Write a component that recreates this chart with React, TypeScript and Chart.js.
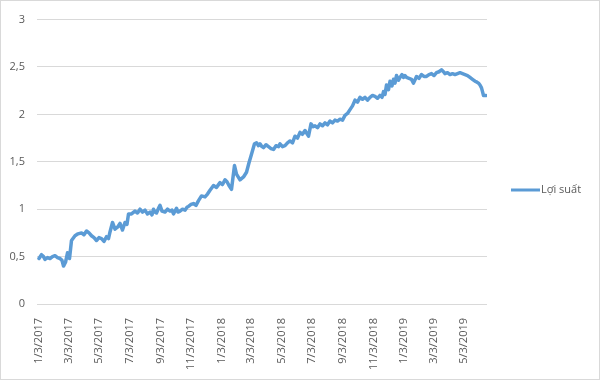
import React, { useEffect, useRef } from "react";
import { Chart, registerables } from "chart.js";

Chart.register(...registerables);

const seriesLabel = "Lợi suất";
const startDate = [2017, 1, 3];

// Days since 3 Jan 2017 for each sampled point (rows align with the yields rows below)
const dayOffsets = [
  0, 5, 9, 12, 17, 22, 27, 32, 37, 42, 46, 49, 53, 57, 61, 65, 72, 78, 85, 90,
  95, 100, 105, 110, 115, 120, 125, 130, 135, 139, 142, 147, 152, 157, 162, 167, 172, 176, 179, 185,
  192, 197, 202, 207, 212, 217, 222, 226, 229, 232, 235, 240, 242, 246, 252, 257, 262, 266, 269, 275,
  278, 282, 287, 292, 296, 299, 304, 309, 314, 319, 325, 332, 337, 342, 349, 355, 362, 367, 372, 376,
  380, 385, 391, 395, 402, 409, 415, 420, 425, 431, 435, 439, 442, 446, 449, 454, 459, 464, 469, 474,
  479, 482, 487, 492, 497, 502, 507, 512, 517, 522, 527, 532, 539, 544, 548, 552, 557, 562, 567, 572,
  577, 582, 587, 592, 597, 602, 607, 612, 617, 622, 627, 632, 637, 642, 647, 652, 657, 662, 667, 672,
  677, 682, 686, 689, 692, 695, 699, 702, 706, 709, 712, 715, 719, 722, 726, 729, 732, 735, 740, 745,
  749, 755, 760, 765, 770, 775, 780, 785, 790, 795, 800, 805, 809, 812, 817, 822, 827, 832, 837, 842,
  847, 852, 857, 862, 867, 872, 876, 879, 882, 885, 887, 889, 894,
];

const yields = [
  0.48, 0.52, 0.50, 0.47, 0.49, 0.48, 0.50, 0.51, 0.49, 0.48, 0.46, 0.40, 0.44, 0.54, 0.48, 0.67, 0.72, 0.74, 0.75, 0.73,
  0.77, 0.75, 0.72, 0.70, 0.67, 0.70, 0.69, 0.66, 0.71, 0.69, 0.76, 0.86, 0.79, 0.81, 0.85, 0.78, 0.86, 0.84, 0.95, 0.95,
  0.98, 0.96, 1.00, 0.97, 0.99, 0.95, 0.97, 0.94, 1.00, 0.97, 0.96, 1.02, 1.04, 0.98, 0.97, 1.00, 0.98, 0.99, 0.95, 1.01,
  0.97, 0.98, 1.00, 0.99, 1.02, 1.03, 1.05, 1.06, 1.04, 1.09, 1.14, 1.13, 1.16, 1.20, 1.25, 1.23, 1.28, 1.26, 1.31, 1.29,
  1.25, 1.21, 1.46, 1.37, 1.31, 1.34, 1.39, 1.49, 1.58, 1.69, 1.70, 1.67, 1.69, 1.66, 1.65, 1.68, 1.66, 1.64, 1.63, 1.67,
  1.66, 1.69, 1.66, 1.67, 1.70, 1.72, 1.70, 1.77, 1.75, 1.81, 1.79, 1.83, 1.77, 1.90, 1.87, 1.88, 1.86, 1.90, 1.88, 1.91,
  1.89, 1.93, 1.91, 1.94, 1.93, 1.95, 1.94, 1.99, 2.01, 2.05, 2.09, 2.15, 2.13, 2.18, 2.16, 2.18, 2.15, 2.18, 2.20, 2.19,
  2.17, 2.20, 2.18, 2.24, 2.21, 2.31, 2.26, 2.35, 2.30, 2.37, 2.33, 2.41, 2.36, 2.39, 2.42, 2.39, 2.41, 2.39, 2.38, 2.37,
  2.33, 2.40, 2.38, 2.42, 2.40, 2.40, 2.42, 2.43, 2.41, 2.44, 2.45, 2.47, 2.45, 2.43, 2.44, 2.42, 2.43, 2.42, 2.43, 2.44,
  2.43, 2.42, 2.41, 2.39, 2.37, 2.35, 2.34, 2.33, 2.31, 2.28, 2.24, 2.20, 2.20,
];

const tickLabels = [
  "1/3/2017", "3/3/2017", "5/3/2017", "7/3/2017", "9/3/2017", "11/3/2017",
  "1/3/2018", "3/3/2018", "5/3/2018", "7/3/2018", "9/3/2018", "11/3/2018",
  "1/3/2019", "3/3/2019", "5/3/2019",
];

const yMin = 0;
const yMax = 3;
const yStep = 0.5;
const xMin = -4;
const xMax = 896;

const lineColor = "#5b9bd5";
const textColor = "#595959";
const gridColor = "#d9d9d9";
const fontFamily = "'Open Sans', sans-serif";

function labelToDay(label: string): number {
  const [m, d, y] = label.split("/").map(Number);
  const t0 = Date.UTC(startDate[0], startDate[1] - 1, startDate[2]);
  return Math.round((Date.UTC(y, m - 1, d) - t0) / 86400000);
}

const tickDays = tickLabels.map(labelToDay);

const sideLegend = {
  id: "sideLegend",
  afterDraw(chart: any) {
    const ctx = chart.ctx;
    const ds = chart.data.datasets[0];
    const x = chart.chartArea.right + 24;
    const y = chart.height / 2;
    ctx.save();
    ctx.strokeStyle = ds.borderColor;
    ctx.lineWidth = 3;
    ctx.beginPath();
    ctx.moveTo(x, y);
    ctx.lineTo(x + 29, y);
    ctx.stroke();
    ctx.fillStyle = textColor;
    ctx.font = `11px ${fontFamily}`;
    ctx.textBaseline = "middle";
    ctx.textAlign = "left";
    ctx.fillText(ds.label, x + 30, y);
    ctx.restore();
  },
};

export default function App() {
  const ref = useRef<HTMLCanvasElement | null>(null);

  useEffect(() => {
    if (!ref.current) return;
    const points = dayOffsets.map((d, i) => ({ x: d, y: yields[i] }));
    const chart = new Chart(ref.current, {
      type: "line",
      data: {
        datasets: [
          {
            label: seriesLabel,
            data: points,
            borderColor: lineColor,
            backgroundColor: lineColor,
            borderWidth: 3.5,
            pointRadius: 0,
            tension: 0,
            borderJoinStyle: "round",
            borderCapStyle: "round",
          },
        ],
      },
      options: {
        animation: false,
        responsive: false,
        maintainAspectRatio: false,
        layout: { padding: { left: 8, right: 112, top: 17, bottom: 0 } },
        plugins: {
          legend: { display: false },
          tooltip: { enabled: false },
        },
        scales: {
          x: {
            type: "linear",
            min: xMin,
            max: xMax,
            grid: { display: false },
            border: { display: false },
            afterBuildTicks: (axis: any) => {
              axis.ticks = tickDays.map((v) => ({ value: v }));
            },
            afterFit: (scale: any) => {
              scale.height = 75;
            },
            ticks: {
              autoSkip: false,
              minRotation: 90,
              maxRotation: 90,
              padding: 6,
              color: textColor,
              font: { family: fontFamily, size: 11 },
              callback: (_v: any, i: number) => tickLabels[i],
            },
          },
          y: {
            min: yMin,
            max: yMax,
            grid: { color: gridColor, lineWidth: 1, drawTicks: false },
            border: { display: false },
            afterFit: (scale: any) => {
              scale.width = 28;
            },
            ticks: {
              stepSize: yStep,
              padding: 12,
              color: textColor,
              font: { family: fontFamily, size: 11 },
              callback: (v: any) => String(v).replace(".", ","),
            },
          },
        },
      },
      plugins: [sideLegend],
    });
    return () => chart.destroy();
  }, []);

  return (
    <div
      style={{
        position: "absolute",
        left: 0,
        top: 0,
        width: 600,
        height: 380,
        boxSizing: "border-box",
        border: "1px solid #d9d9d9",
        background: "#ffffff",
      }}
    >
      <canvas ref={ref} width={598} height={378} style={{ display: "block" }} />
    </div>
  );
}
